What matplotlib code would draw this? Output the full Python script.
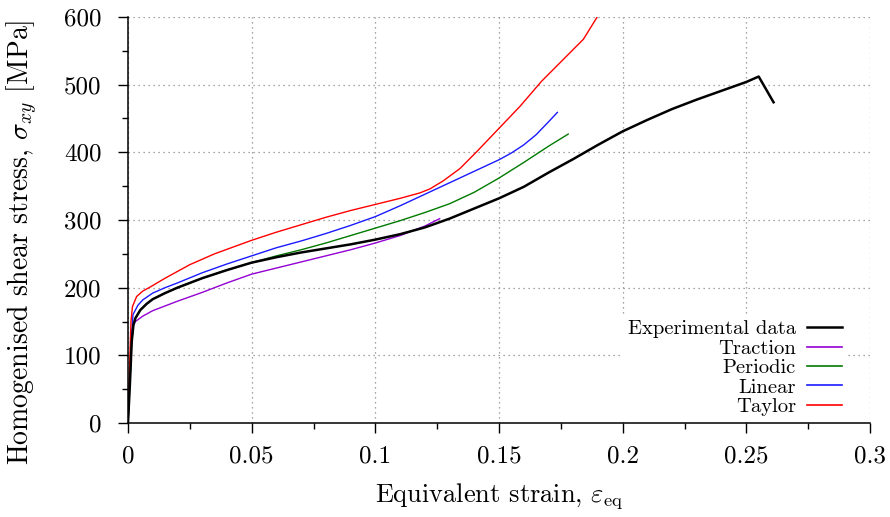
import matplotlib
matplotlib.use("Agg")
import matplotlib.pyplot as plt
from matplotlib.ticker import MultipleLocator

plt.rcParams['font.family'] = ['cmr10', 'DejaVu Serif']
plt.rcParams['mathtext.fontset'] = 'cm'
plt.rcParams['axes.unicode_minus'] = False
plt.rcParams['axes.formatter.use_mathtext'] = True

# ---- data ----
exp_strain = [0, 0.0008, 0.0015, 0.0022, 0.003, 0.005, 0.0075, 0.01, 0.015, 0.02, 0.03, 0.04, 0.05,
              0.06, 0.07, 0.08, 0.09, 0.1, 0.11, 0.12, 0.13, 0.14, 0.15, 0.16, 0.17, 0.18, 0.19,
              0.2, 0.21, 0.22, 0.23, 0.24, 0.25, 0.255, 0.261]
exp_stress = [0, 60, 120, 145, 155, 167, 176, 183, 192, 200, 214, 226, 237, 245, 252, 258, 264,
              271, 279, 289, 302, 317, 332, 349, 370, 390, 411, 431, 448, 464, 478, 491, 504,
              512, 474]

tra_strain = [0, 0.0008, 0.0015, 0.002, 0.003, 0.006, 0.01, 0.015, 0.02, 0.03, 0.04, 0.05, 0.06,
              0.07, 0.08, 0.09, 0.1, 0.11, 0.12, 0.126]
tra_stress = [0, 70, 130, 143, 150, 158, 166, 173, 180, 193, 207, 220, 229, 238, 247, 256, 266,
              277, 291, 302]

per_strain = [0, 0.0008, 0.0015, 0.0022, 0.003, 0.005, 0.0075, 0.01, 0.015, 0.02, 0.03, 0.04,
              0.05, 0.06, 0.07, 0.08, 0.09, 0.1, 0.11, 0.12, 0.13, 0.14, 0.15, 0.16, 0.17, 0.178]
per_stress = [0, 60, 120, 145, 155, 167, 176, 183, 192, 200, 214, 226, 237, 247, 256, 266, 277,
              288, 299, 311, 324, 341, 362, 385, 409, 427]

lin_strain = [0, 0.0008, 0.0015, 0.002, 0.004, 0.006, 0.01, 0.015, 0.02, 0.03, 0.04, 0.05, 0.06,
              0.07, 0.08, 0.09, 0.1, 0.11, 0.12, 0.13, 0.14, 0.15, 0.155, 0.16, 0.165, 0.17, 0.1736]
lin_stress = [0, 70, 130, 160, 174, 182, 192, 200, 207, 222, 235, 247, 259, 269, 280, 292, 305,
              321, 338, 355, 372, 389, 399, 411, 426, 445, 459]

tay_strain = [0, 0.0006, 0.0012, 0.0018, 0.0035, 0.006, 0.009, 0.015, 0.025, 0.035, 0.05, 0.06,
              0.07, 0.08, 0.09, 0.1, 0.11, 0.118, 0.1221, 0.1275, 0.1342, 0.141, 0.1504, 0.1585,
              0.1672, 0.1841, 0.1897]
tay_stress = [0, 80, 150, 172, 187, 195, 201, 214, 234, 250, 270, 282, 293, 304, 314, 323, 332,
              340, 346, 358, 376, 401, 437, 468, 505, 567, 600]

xticks = [0, 0.05, 0.1, 0.15, 0.2, 0.25, 0.3]
xticklabels = ['0', '0.05', '0.1', '0.15', '0.2', '0.25', '0.3']
yticks = [0, 100, 200, 300, 400, 500, 600]
yticklabels = ['0', '100', '200', '300', '400', '500', '600']

fig = plt.figure(figsize=(8.9, 5.17), dpi=100)
ax = fig.add_axes([128/890, (517-423)/517, (870-128)/890, (423-17)/517])

ax.plot(exp_strain, exp_stress, color='black', lw=1.8, label='Experimental data', zorder=2.2)
ax.plot(tra_strain, tra_stress, color='#9400d3', lw=1.0, label='Traction', zorder=2.1)
ax.plot(per_strain, per_stress, color='#007a00', lw=1.0, label='Periodic', zorder=2.1)
ax.plot(lin_strain, lin_stress, color='#1a1aff', lw=1.0, label='Linear', zorder=2.1)
ax.plot(tay_strain, tay_stress, color='#ff0000', lw=1.0, label='Taylor', zorder=2.1)

ax.set_xlim(0, 0.3)
ax.set_ylim(0, 600)
ax.set_xticks(xticks)
ax.set_xticklabels(xticklabels)
ax.set_yticks(yticks)
ax.set_yticklabels(yticklabels)
ax.xaxis.set_minor_locator(MultipleLocator(0.025))
ax.yaxis.set_minor_locator(MultipleLocator(50))

ax.spines['top'].set_visible(False)
ax.spines['right'].set_visible(False)
ax.spines['left'].set_linewidth(1.1)
ax.spines['bottom'].set_linewidth(1.1)

ax.tick_params(axis='both', which='major', direction='out', length=7, width=1.0, labelsize=18)
ax.tick_params(axis='both', which='minor', direction='out', length=4, width=1.0)
ax.tick_params(axis='x', which='major', pad=9)
ax.tick_params(axis='y', which='major', pad=12)

ax.grid(True, which='major', linestyle=(0, (1, 3)), color='#888888', linewidth=0.9)
ax.set_axisbelow(True)

ax.set_xlabel(r'Equivalent strain, $\varepsilon_{\rm eq}$', fontsize=19)
ax.xaxis.set_label_coords(0.5, -0.143)
ax.set_ylabel(r'Homogenised shear stress, $\sigma_{xy}$ [MPa]', fontsize=20)
ax.yaxis.set_label_coords(-0.118, 0.446)

leg = ax.legend(loc='lower right', bbox_to_anchor=(0.971, 0.002), fontsize=14.8, markerfirst=False,
                frameon=True, framealpha=1.0, facecolor='white', edgecolor='none',
                handlelength=1.7, handletextpad=0.55, labelspacing=0.05, borderpad=0.3,
                borderaxespad=0.0)
for t in leg.get_texts():
    t.set_ha('right')
for h in leg.get_lines():
    h.set_linewidth(1.2)
leg.get_lines()[0].set_linewidth(1.8)
leg.set_zorder(2.4)

fig.savefig('out.png', dpi=100)
